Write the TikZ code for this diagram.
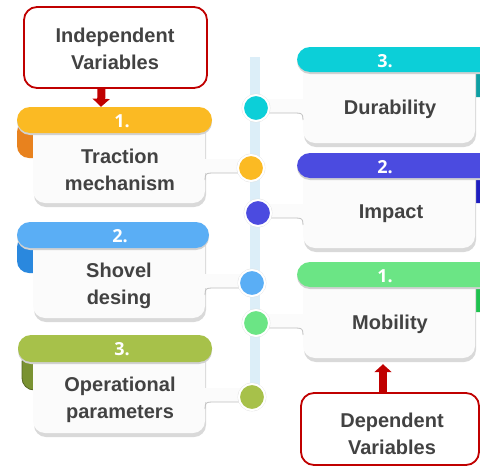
\documentclass[tikz,border=0pt]{standalone}
\usepackage{fontspec}
\setmainfont{Liberation Sans}
\newfontfamily\numfont{Open Sans}
\usetikzlibrary{arrows.meta,shadows}
\definecolor{txtc}{HTML}{424242}
\definecolor{redc}{HTML}{C00000}
\definecolor{cardc}{HTML}{FBFBFB}
\definecolor{vline}{HTML}{DCEEF8}
\definecolor{yel}{HTML}{FBBA23}
\definecolor{yelc}{HTML}{E8821E}
\definecolor{lblu}{HTML}{5AAEF5}
\definecolor{lbluc}{HTML}{2A88DE}
\definecolor{oli}{HTML}{A7C14A}
\definecolor{olic}{HTML}{7A9232}
\definecolor{cya}{HTML}{0CCFD8}
\definecolor{cyac}{HTML}{0E9FA3}
\definecolor{pur}{HTML}{4B4BE0}
\definecolor{purc}{HTML}{1E1EBF}
\definecolor{grn}{HTML}{6BE585}
\definecolor{grnc}{HTML}{1FC14F}
\tikzset{
 banner/.style={rounded corners=13pt, minimum height=26pt, inner sep=0pt,
   drop shadow={shadow xshift=0pt, shadow yshift=-2pt, fill=black!18, opacity=1}},
 card/.style={fill=cardc, rounded corners=12pt, minimum width=172pt, inner sep=0pt,
   drop shadow={shadow xshift=1pt, shadow yshift=-4pt, fill=black!15, opacity=1}},
 lbl/.style={text=txtc, font=\fontsize{20}{27}\selectfont\bfseries, align=center, inner sep=0pt},
 num/.style={text=white, font=\numfont\fontsize{18}{20}\selectfont\bfseries, inner sep=0pt},
 dot/.style={circle, minimum size=26pt, inner sep=0pt, draw=white, line width=2pt},
 dotring/.style={draw=black!12, line width=0.6pt},
 redbox/.style={draw=redc, line width=1.8pt, rounded corners=13pt, fill=white, inner sep=0pt},
 redarrow/.style={draw=redc, line width=8pt, -{Triangle[width=17pt,length=8pt]}},
 tabline/.style={draw=black!25, line width=0.8pt},
}
\begin{document}
\begin{tikzpicture}[x=1pt,y=-1pt]
\useasboundingbox (0,0) rectangle (480,469);
\clip (0,0) rectangle (480,469);
\fill[white] (0,0) rectangle (480,469);

% vertical line
\draw[line width=10pt, vline] (255,57) -- (255,397);

% ---------- left cards ----------
% curls
\fill[yelc, rounded corners=12pt] (17,120) rectangle (60,158);
\fill[lbluc, rounded corners=12pt] (17,235) rectangle (60,273);
\filldraw[olic, draw=olic!70!black, line width=0.8pt, rounded corners=12pt] (22,350) rectangle (60,390);
% card bodies
\node[card, minimum height=91pt] (c1) at (119,157.5) {};
\node[card, minimum height=91pt] (c2) at (119,272.5) {};
\node[card, minimum height=93pt] (c3) at (119,386.5) {};
% banners
\node[banner, fill=yel, minimum width=195pt] (b1) at (114.5,120) {};
\node[banner, fill=lblu, minimum width=192pt] (b2) at (113,235) {};
\node[banner, fill=oli, minimum width=194pt, minimum height=27pt] (b3) at (115,348.5) {};

% ---------- right cards ----------
\fill[cyac, rounded corners=12pt] (440,60) rectangle (500,97);
\fill[purc, rounded corners=12pt] (440,166) rectangle (500,203);
\fill[grnc, rounded corners=12pt] (440,275) rectangle (500,312);
\node[card, minimum height=91pt] (c4) at (389,97.5) {};
\node[card, minimum height=90pt] (c5) at (389,203) {};
\node[card, minimum height=91pt] (c6) at (389,312.5) {};
\node[banner, fill=cya, minimum width=223pt, minimum height=25pt] (b4) at (408.5,59.5) {};
\node[banner, fill=pur, minimum width=223pt, minimum height=25pt] (b5) at (408.5,165.5) {};
\node[banner, fill=grn, minimum width=223pt, minimum height=25pt] (b6) at (408.5,274.5) {};

% ---------- dots (positions) ----------
\coordinate (p4) at (256,108);
\coordinate (p1) at (251,168);
\coordinate (p5) at (258,213);
\coordinate (p2) at (252,283);
\coordinate (p6) at (256,323);
\coordinate (p3) at (252,397);

% ---------- tabs (card to dot) ----------
% left
\fill[cardc] ([xshift=-4pt]c1.east |- 0,159) rectangle (251,173);
\draw[tabline] (205,180) .. controls (205,174) and (206,173) .. (212,173) -- (238,173);
\fill[cardc] ([xshift=-4pt]c2.east |- 0,274) rectangle (252,288);
\draw[tabline] (205,295) .. controls (205,289) and (206,288) .. (212,288) -- (239,288);
\fill[cardc] ([xshift=-4pt]c3.east |- 0,388) rectangle (252,402);
\draw[tabline] (205,409) .. controls (205,403) and (206,402) .. (212,402) -- (239,402);
% right
\fill[cardc] (256,99) rectangle ([xshift=4pt]c4.west |- 0,113);
\draw[tabline] (268,113) -- (296,113) .. controls (302,113) and (303,114) .. (303,120);
\fill[cardc] (258,204) rectangle ([xshift=4pt]c5.west |- 0,218);
\draw[tabline] (270,218) -- (296,218) .. controls (302,218) and (303,219) .. (303,225);
\fill[cardc] (256,314) rectangle ([xshift=4pt]c6.west |- 0,328);
\draw[tabline] (268,328) -- (296,328) .. controls (302,328) and (303,329) .. (303,335);

% dots
\foreach \p in {p1,p2,p3,p4,p5,p6} \draw[dotring] (\p) circle[radius=14];
\node[dot, fill=cya] (d4) at (p4) {};
\node[dot, fill=yel] (d1) at (p1) {};
\node[dot, fill=pur] (d5) at (p5) {};
\node[dot, fill=lblu] (d2) at (p2) {};
\node[dot, fill=grn] (d6) at (p6) {};
\node[dot, fill=oli] (d3) at (p3) {};

% ---------- texts ----------
\node[num] (n1) at (122,121) {1.};
\node[num] (n2) at (120,236) {2.};
\node[num] (n3) at (122,349) {3.};
\node[num] (n4) at (385,61) {3.};
\node[num] (n5) at (385,167) {2.};
\node[num] (n6) at (385,276) {1.};
\node[lbl] (t1) at (120,170) {Traction\\mechanism};
\node[lbl] (t2) at (119,286) {Shovel\\desing};
\node[lbl] (t3) at (120,400) {Operational\\parameters};
\node[lbl] (t4) at (390,109) {Durability};
\node[lbl] (t5) at (391,214) {Impact};
\node[lbl] (t6) at (390,324) {Mobility};

% ---------- red boxes ----------
\node[redbox, minimum width=183pt, minimum height=81pt] (ind) at (115.5,47.5) {};
\node[lbl] (indt) at (115,49) {Independent\\Variables};
\node[redbox, minimum width=178pt, minimum height=72pt] (dep) at (390,429) {};
\node[lbl] (dept) at (392,434) {Dependent\\Variables};

\draw[redarrow] ([xshift=-14pt]ind.south) -- ([xshift=-13.5pt]b1.north);
\draw[redarrow] ([xshift=-7pt]dep.north) -- ([xshift=-6pt,yshift=-6pt]c6.south);
\end{tikzpicture}
\end{document}
